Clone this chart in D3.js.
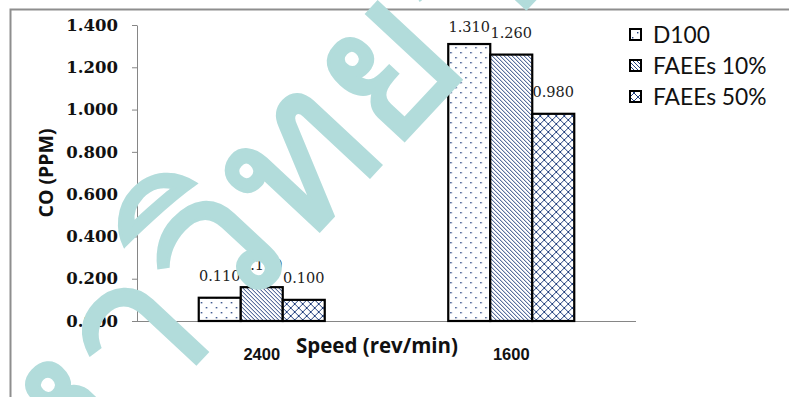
<!DOCTYPE html>
<html>
<head>
<meta charset="utf-8">
<script src="https://cdn.jsdelivr.net/npm/d3@7"></script>
<style>
  html, body { margin: 0; padding: 0; background: #fff; }
  svg { display: block; }
</style>
</head>
<body>
<div id="chart"></div>
<script>
// CO emission by engine speed for each fuel blend
const speeds = ["2400", "1600"];
const fuels = ["D100", "FAEEs 10%", "FAEEs 50%"];
const d100 = [0.110, 1.310];
const faee10 = [0.160, 1.260];
const faee50 = [0.100, 0.980];
const yTicks = [0, 0.2, 0.4, 0.6, 0.8, 1.0, 1.2, 1.4];

const seriesValues = [d100, faee10, faee50];
const patternIds = ["pat-dots", "pat-diag", "pat-cross"];

const W = 789, H = 397;
const margin = { left: 137, right: 153, top: 25, bottom: 76 };

const svg = d3.select("#chart").append("svg")
  .attr("width", W).attr("height", H);

// fill patterns
const defs = svg.append("defs");
const navy = "#23407e";
const pDots = defs.append("pattern").attr("id", "pat-dots")
  .attr("patternUnits", "userSpaceOnUse").attr("width", 10).attr("height", 10);
pDots.append("rect").attr("width", 10).attr("height", 10).attr("fill", "#fff");
pDots.append("rect").attr("x", 2).attr("y", 2).attr("width", 1.4).attr("height", 1.4).attr("fill", navy);
pDots.append("rect").attr("x", 7).attr("y", 7).attr("width", 1.4).attr("height", 1.4).attr("fill", navy);

const pDiag = defs.append("pattern").attr("id", "pat-diag")
  .attr("patternUnits", "userSpaceOnUse").attr("width", 4).attr("height", 4);
pDiag.append("rect").attr("width", 4).attr("height", 4).attr("fill", "#fff");
pDiag.append("path").attr("d", "M-1,-1 L5,5 M-1,3 L1,5 M3,-1 L5,1")
  .attr("stroke", navy).attr("stroke-width", 1);

const pCross = defs.append("pattern").attr("id", "pat-cross")
  .attr("patternUnits", "userSpaceOnUse").attr("width", 8).attr("height", 8);
pCross.append("rect").attr("width", 8).attr("height", 8).attr("fill", "#fff");
pCross.append("path").attr("d", "M0,0 L8,8 M8,0 L0,8")
  .attr("stroke", navy).attr("stroke-width", 1);

// outer frame
svg.append("rect").attr("x", 10.5).attr("y", 9.5).attr("width", 900).attr("height", 500)
  .attr("fill", "none").attr("stroke", "#8e8e8e").attr("stroke-width", 2);

const x0 = d3.scaleBand().domain(speeds)
  .range([margin.left, W - margin.right])
  .paddingInner(0.495).paddingOuter(0.2475);
const x1 = d3.scaleBand().domain(fuels).range([0, x0.bandwidth()]);
const y = d3.scaleLinear().domain([0, 1.4]).range([H - margin.bottom, margin.top]);

// y axis
const yAxis = svg.append("g")
  .attr("transform", `translate(${margin.left},0)`)
  .call(d3.axisLeft(y).tickValues(yTicks).tickFormat(d3.format(".3f")).tickSize(5).tickSizeOuter(0));
yAxis.select(".domain").attr("stroke", "#868686");
yAxis.selectAll(".tick line").attr("stroke", "#868686");
yAxis.selectAll(".tick text")
  .attr("x", -19)
  .attr("fill", "#111")
  .style("font-family", "'DejaVu Serif', serif")
  .style("font-weight", "bold")
  .style("font-size", "16.5px");

// x axis baseline
svg.append("line")
  .attr("x1", margin.left - 5).attr("x2", W - margin.right)
  .attr("y1", y(0) + 0.5).attr("y2", y(0) + 0.5)
  .attr("stroke", "#868686").attr("stroke-width", 1.2);

// category labels
svg.append("g").selectAll("text").data(speeds).join("text")
  .attr("x", d => x0(d) + x0.bandwidth() / 2)
  .attr("y", y(0) + 39)
  .attr("text-anchor", "middle")
  .style("font-family", "'Liberation Sans', Arial, sans-serif")
  .style("font-weight", "bold")
  .style("font-size", "16.5px")
  .attr("fill", "#111")
  .text(d => d);

// bars
const groups = svg.append("g").selectAll("g").data(speeds).join("g")
  .attr("transform", d => `translate(${x0(d)},0)`);

groups.selectAll("rect")
  .data((d, i) => fuels.map((f, j) => ({ fuel: f, value: seriesValues[j][i], k: j })))
  .join("rect")
  .attr("x", d => x1(d.fuel))
  .attr("y", d => y(d.value))
  .attr("width", x1.bandwidth())
  .attr("height", d => y(0) - y(d.value))
  .attr("fill", d => `url(#${patternIds[d.k]})`)
  .attr("stroke", "#000")
  .attr("stroke-width", 2.2);

// value labels, kept inside the plot area at the top
groups.selectAll("text.val")
  .data((d, i) => fuels.map((f, j) => ({ fuel: f, value: seriesValues[j][i] })))
  .join("text")
  .attr("class", "val")
  .attr("x", d => x1(d.fuel) + x1.bandwidth() / 2)
  .attr("y", d => Math.max(y(d.value) - 17, y(1.4) + 7))
  .attr("text-anchor", "middle")
  .style("font-family", "'DejaVu Serif', serif")
  .style("font-size", "14.5px")
  .attr("fill", "#222")
  .text(d => d3.format(".3f")(d.value));

// axis titles
svg.append("text")
  .attr("x", 377).attr("y", 353)
  .attr("text-anchor", "middle")
  .style("font-family", "'Open Sans', sans-serif")
  .style("font-weight", "bold")
  .style("font-size", "20.5px")
  .attr("fill", "#111")
  .text("Speed (rev/min)");

svg.append("text")
  .attr("transform", "translate(53,173) rotate(-90)")
  .attr("text-anchor", "middle")
  .style("font-family", "'Open Sans', sans-serif")
  .style("font-weight", "bold")
  .style("font-size", "19.5px")
  .attr("fill", "#111")
  .text("CO (PPM)");

// legend
const legend = svg.append("g").attr("transform", "translate(630,35)");
const item = legend.selectAll("g").data(fuels).join("g")
  .attr("transform", (d, i) => `translate(0,${i * 31})`);
item.append("rect")
  .attr("x", 0).attr("y", -6).attr("width", 11).attr("height", 11)
  .attr("fill", (d, i) => `url(#${patternIds[i]})`)
  .attr("stroke", "#000").attr("stroke-width", 2);
item.append("text")
  .attr("x", 23).attr("y", 0)
  .attr("dy", "0.35em")
  .style("font-family", "Lato, 'Open Sans', sans-serif")
  .style("font-size", "22.8px")
  .attr("fill", "#111")
  .text(d => d);

// diagonal watermark over the whole chart
const wmFont = 205, wmAngle = -47, wmAnchorChar = 5;
const wm = svg.append("text")
  .style("font-family", "'Noto Sans', 'DejaVu Sans', sans-serif")
  .style("font-size", wmFont + "px")
  .attr("fill", "#b2dcdb")
  .attr("stroke", "#b2dcdb")
  .attr("stroke-width", 3)
  .text("มหาวิทยาลัย");
// place the chosen glyph's centre at a fixed point of the canvas
const p0 = wm.node().getStartPositionOfChar(wmAnchorChar);
const p1 = wm.node().getEndPositionOfChar(wmAnchorChar);
const lx = (p0.x + p1.x) / 2, ly = -0.33 * wmFont;
const a = wmAngle * Math.PI / 180;
const tx = 295 - (lx * Math.cos(a) - ly * Math.sin(a));
const ty = 158 - (lx * Math.sin(a) + ly * Math.cos(a));
wm.attr("transform", `translate(${tx},${ty}) rotate(${wmAngle})`);
</script>
</body>
</html>
